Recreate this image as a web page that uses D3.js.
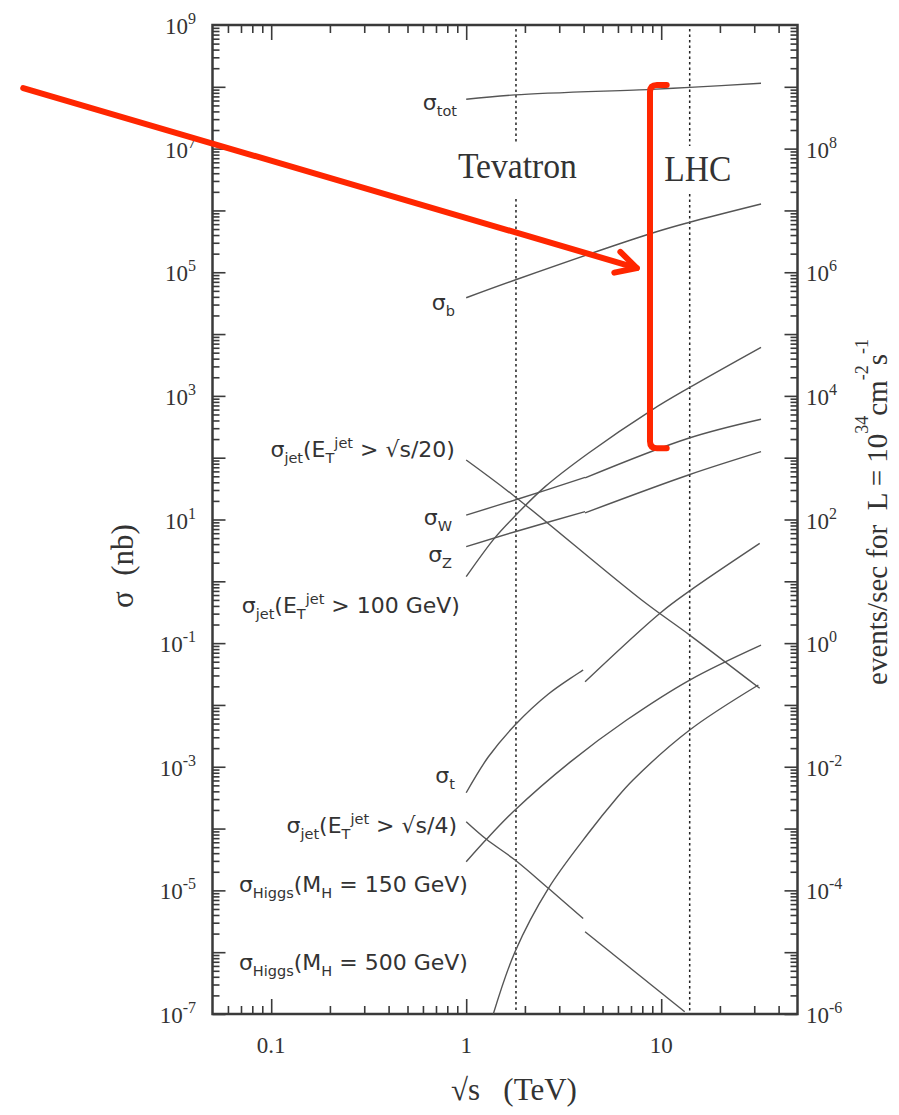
<!DOCTYPE html>
<html><head><meta charset="utf-8">
<script src="https://cdn.jsdelivr.net/npm/d3@7"></script>
<style>body{margin:0;background:#fff}</style>
</head><body>
<svg id="c" width="899" height="1115"></svg>
<script>
// ---------- DATA (sqrt(s) in TeV, sigma in nb) ----------
const E_tot = [1, 1.78, 8.9, 14, 32.5];
const S_tot = [6.3e7, 7.4e7, 9.1e7, 9.8e7, 1.14e8];

const E_b = [1, 1.78, 8.94, 14, 32.5];
const S_b = [3.87e4, 7.5e4, 4.27e5, 6.43e5, 1.27e6];

const E_jet20 = [1, 1.78, 7.94, 14, 32];
const S_jet20 = [91.6, 23.4, 0.498, 0.135, 0.0186];

const E_jet100 = [1, 1.405, 1.78, 2.54, 4.23, 8.94, 14, 32.5];
const S_jet100 = [1.19, 5.1, 11.4, 34, 118, 590, 1370, 6100];

const E_W_ppbar = [1, 1.78, 4.07];
const S_W_ppbar = [11.8, 20.7, 48];
const E_W_pp = [4.07, 13.8, 32.5];
const S_W_pp = [47, 206, 418];

const E_Z_ppbar = [1, 1.78, 4.07];
const S_Z_ppbar = [3.63, 6.34, 13.4];
const E_Z_pp = [4.07, 13.8, 32.5];
const S_Z_pp = [12.8, 52.5, 125];

const E_t_ppbar = [1, 1.30, 1.78, 2.64, 3.98];
const S_t_ppbar = [3.8e-4, 1.45e-3, 4.73e-3, 0.015, 0.0367];
const E_t_pp = [4.07, 9.86, 14, 32];
const S_t_pp = [0.0238, 0.305, 0.70, 4.1];

const E_jet4_ppbar = [1, 1.27, 1.78, 2.64, 3.98];
const S_jet4_ppbar = [1.29e-4, 6.7e-5, 3.1e-5, 1.08e-5, 3.5e-6];
const E_jet4_pp = [4.07, 13.2];
const S_jet4_pp = [2.14e-6, 1.09e-7];

const E_H150 = [1, 1.27, 1.78, 3.41, 6.65, 14, 32.5];
const S_H150 = [2.9e-5, 6.7e-5, 2.0e-4, 1.19e-3, 5.7e-3, 0.0253, 0.093];

const E_H500 = [1.377, 1.78, 2.64, 4.23, 5.8, 7.17, 14, 31.5];
const S_H500 = [1.0e-7, 1.02e-6, 1.08e-5, 8.4e-5, 2.9e-4, 6.1e-4, 3.93e-3, 0.021];

// colliders (sqrt(s), TeV)
const colliders = ["Tevatron", "LHC"];
const colliderE = [1.8, 14];
const colliderLabelE = [1.83, 15.4];
const colliderLabelS = [3.35e6, 2.99e6];
const colliderGapTop = [1.14e7, 1.02e7];
const colliderGapBot = [1.78e6, 2.14e6];

// tick labels
const xTickLabels = [0.1, 1, 10];
const yLeftExps = [9, 7, 5, 3, 1, -1, -3, -5, -7];
const yRightExps = [8, 6, 4, 2, 0, -2, -4, -6];

// curve labels: [endE, baselineSigma, parts]
const labelEnd = [0.897, 0.875, 0.875, 0.846, 0.846, 0.929, 0.875, 0.897, 1.02, 1.02];
const labelS = [4.21e7, 2.45e4, 102.6, 8.14, 2.05, 0.307, 5.46e-4, 8.47e-5, 9.4e-6, 5.14e-7];
const labelParts = [
  [{t:"σ"},{t:"tot",sub:1}],
  [{t:"σ"},{t:"b",sub:1}],
  [{t:"σ"},{t:"jet",sub:1},{t:"(E"},{t:"T",sub:1},{t:"jet",sup:1},{t:" > √s/20)"}],
  [{t:"σ"},{t:"W",sub:1}],
  [{t:"σ"},{t:"Z",sub:1}],
  [{t:"σ"},{t:"jet",sub:1},{t:"(E"},{t:"T",sub:1},{t:"jet",sup:1},{t:" > 100 GeV)"}],
  [{t:"σ"},{t:"t",sub:1}],
  [{t:"σ"},{t:"jet",sub:1},{t:"(E"},{t:"T",sub:1},{t:"jet",sup:1},{t:" > √s/4)"}],
  [{t:"σ"},{t:"Higgs",sub:1},{t:"(M"},{t:"H",sub:1},{t:" = 150 GeV)"}],
  [{t:"σ"},{t:"Higgs",sub:1},{t:"(M"},{t:"H",sub:1},{t:" = 500 GeV)"}]
];

// red annotation (in data coordinates)
const arrowFrom = [0.00535, 9.55e7];
const arrowTo = [7.5, 1.17e5];
const bracketE = 8.76, bracketTop = 1.07e8, bracketBot = 141.6, bracketSerifE = 10.67;

// ---------- LAYOUT ----------
const svg = d3.select("#c");
const m = {left:212.5, right:797.5, top:25, bottom:1014};
const x = d3.scaleLog().domain([0.05, 50]).range([m.left, m.right]);
const y = d3.scaleLog().domain([1e-7, 1e9]).range([m.bottom, m.top]);
const yR = d3.scaleLog().domain([1e-6, 1e10]).range([m.bottom, m.top]);
const SERIF = "'Liberation Serif','Times New Roman',serif";
const SANS = "'DejaVu Sans','Verdana',sans-serif";
const INK = "#3a3a3a";

svg.append("rect").attr("width",899).attr("height",1115).attr("fill","#fff");
svg.append("defs").append("clipPath").attr("id","plot")
  .append("rect").attr("x",m.left).attr("y",m.top)
  .attr("width",m.right-m.left).attr("height",m.bottom-m.top);

// ticks
const minorX=[], majorX=[];
for(let d=-2; d<=1; d++) for(let k=1;k<=9;k++){
  const v=k*Math.pow(10,d);
  if(v>0.0501 && v<49.9){ (k===1?majorX:minorX).push(v); }
}
const minorY=[], majorY=[];
for(let d=-7; d<=8; d++) for(let k=1;k<=9;k++){
  const v=k*Math.pow(10,d);
  if(v>=1e-7*0.999 && v<=1e9*1.001){ (k===1?majorY:minorY).push(v); }
}
function addAxis(gen, tr, vals, size){
  const g = svg.append("g").attr("transform",tr)
    .call(gen.tickValues(vals).tickSize(size).tickFormat(""));
  g.select(".domain").remove();
  g.selectAll(".tick line").attr("stroke",INK).attr("stroke-width",1.6);
}
addAxis(d3.axisTop(x), `translate(0,${m.bottom})`, minorX, 8);
addAxis(d3.axisTop(x), `translate(0,${m.bottom})`, majorX, 15);
addAxis(d3.axisBottom(x), `translate(0,${m.top})`, minorX, 8);
addAxis(d3.axisBottom(x), `translate(0,${m.top})`, majorX, 15);
addAxis(d3.axisRight(y), `translate(${m.left},0)`, minorY, 7);
addAxis(d3.axisRight(y), `translate(${m.left},0)`, majorY, 13);
addAxis(d3.axisLeft(y), `translate(${m.right},0)`, minorY, 7);
addAxis(d3.axisLeft(y), `translate(${m.right},0)`, majorY, 13);

// frame
svg.append("rect").attr("x",m.left).attr("y",m.top)
  .attr("width",m.right-m.left).attr("height",m.bottom-m.top)
  .attr("fill","none").attr("stroke",INK).attr("stroke-width",2.5);

// rich text helper
function rich(t, parts, small, supDy, subDy){
  let cur=0;
  parts.forEach(p=>{
    const target = p.sup? supDy : (p.sub? subDy : 0);
    const ts = t.append("tspan").text(p.t).attr("dy", target-cur);
    if(p.sup||p.sub) ts.attr("font-size", small);
    cur = target;
  });
}

// y tick labels
yLeftExps.forEach(e=>{
  const t = svg.append("text").attr("x",196).attr("y",y(Math.pow(10,e))+9)
    .attr("text-anchor","end").attr("font-family",SERIF).attr("font-size",23)
    .attr("fill","#333").style("white-space","pre");
  rich(t, [{t:"10"},{t:String(e),sup:1}], 16, -10, 0);
});
yRightExps.forEach(e=>{
  const t = svg.append("text").attr("x",806).attr("y",yR(Math.pow(10,e))+9)
    .attr("text-anchor","start").attr("font-family",SERIF).attr("font-size",23)
    .attr("fill","#333").style("white-space","pre");
  rich(t, [{t:"10"},{t:String(e),sup:1}], 16, -10, 0);
});
// x tick labels
xTickLabels.forEach(v=>{
  svg.append("text").attr("x",x(v)).attr("y",1053).attr("text-anchor","middle")
    .attr("font-family",SERIF).attr("font-size",23).attr("fill","#333").text(String(v));
});

// axis titles
svg.append("text").attr("x",514).attr("y",1100).attr("text-anchor","middle")
  .attr("font-family",SERIF).attr("font-size",31).attr("fill","#333")
  .style("white-space","pre").text("√s   (TeV)");
svg.append("text").attr("transform","translate(133,566) rotate(-90)")
  .attr("text-anchor","middle").attr("font-family",SERIF).attr("font-size",31)
  .attr("fill","#333").style("white-space","pre").text("σ  (nb)");
{
  const t = svg.append("text").attr("transform","translate(887,512) rotate(-90)")
    .attr("text-anchor","middle").attr("font-family",SERIF).attr("font-size",29)
    .attr("fill","#333").style("white-space","pre");
  rich(t, [{t:"events/sec for  L = 10"},{t:"34",sup:1},{t:"cm"},{t:"-2",sup:1},{t:"s"},{t:"-1",sup:1}], 18, -19, 0);
}

// collider dotted lines + labels
colliders.forEach((c,i)=>{
  const xx = x(colliderE[i]);
  [[y.domain()[1], colliderGapTop[i]],[colliderGapBot[i], y.domain()[0]]].forEach(seg=>{
    svg.append("line").attr("x1",xx).attr("x2",xx)
      .attr("y1",y(seg[0])+4).attr("y2",y(seg[1])-2)
      .attr("stroke","#222").attr("stroke-width",1.5).attr("stroke-dasharray","2.5,3");
  });
  svg.append("text").attr("x",x(colliderLabelE[i])).attr("y",y(colliderLabelS[i]))
    .attr("text-anchor","middle").attr("font-family",SERIF).attr("font-size",35)
    .attr("fill","#333").attr("textLength", i===0?119:67).attr("lengthAdjust","spacingAndGlyphs")
    .text(c);
});

// curves
const series = [
  [E_tot,S_tot],[E_b,S_b],[E_jet20,S_jet20],[E_jet100,S_jet100],
  [E_W_ppbar,S_W_ppbar],[E_W_pp,S_W_pp],[E_Z_ppbar,S_Z_ppbar],[E_Z_pp,S_Z_pp],
  [E_t_ppbar,S_t_ppbar],[E_t_pp,S_t_pp],[E_jet4_ppbar,S_jet4_ppbar],[E_jet4_pp,S_jet4_pp],
  [E_H150,S_H150],[E_H500,S_H500]
];
const line = d3.line().x(d=>x(d[0])).y(d=>y(d[1])).curve(d3.curveCatmullRom.alpha(0.5));
const cg = svg.append("g").attr("clip-path","url(#plot)");
series.forEach(([E,S])=>{
  cg.append("path").attr("d", line(E.map((e,i)=>[e,S[i]])))
    .attr("fill","none").attr("stroke","#555").attr("stroke-width",1.4);
});

// curve labels
labelParts.forEach((parts,i)=>{
  const t = svg.append("text").attr("x",x(labelEnd[i])).attr("y",y(labelS[i]))
    .attr("text-anchor","end").attr("font-family",SANS).attr("font-size",22)
    .attr("fill","#333").style("white-space","pre");
  rich(t, parts, 14.5, -9, 6);
});

// red annotation
const RED = "#ff2600";
const ax0 = x(arrowFrom[0]), ay0 = y(arrowFrom[1]);
const ax1 = x(arrowTo[0]), ay1 = y(arrowTo[1]);
const red = svg.append("g").attr("stroke",RED).attr("stroke-width",6)
  .attr("stroke-linecap","round").attr("stroke-linejoin","round").attr("fill","none");
red.append("line").attr("x1",ax0).attr("y1",ay0).attr("x2",ax1).attr("y2",ay1);
const ang = Math.atan2(ay1-ay0, ax1-ax0);
const bl = 23, ba = 28*Math.PI/180;
const hp = d3.path();
hp.moveTo(ax1 - bl*Math.cos(ang-ba), ay1 - bl*Math.sin(ang-ba));
hp.lineTo(ax1, ay1);
hp.lineTo(ax1 - bl*Math.cos(ang+ba), ay1 - bl*Math.sin(ang+ba));
red.append("path").attr("d", hp.toString());
const bx = x(bracketE), bt = y(bracketTop), bb = y(bracketBot), bs = x(bracketSerifE), r = 7;
const bp = d3.path();
bp.moveTo(bs, bt); bp.lineTo(bx+r, bt); bp.quadraticCurveTo(bx, bt, bx, bt+r);
bp.lineTo(bx, bb-r); bp.quadraticCurveTo(bx, bb, bx+r, bb); bp.lineTo(bs, bb);
red.append("path").attr("d", bp.toString());
</script>
</body></html>
